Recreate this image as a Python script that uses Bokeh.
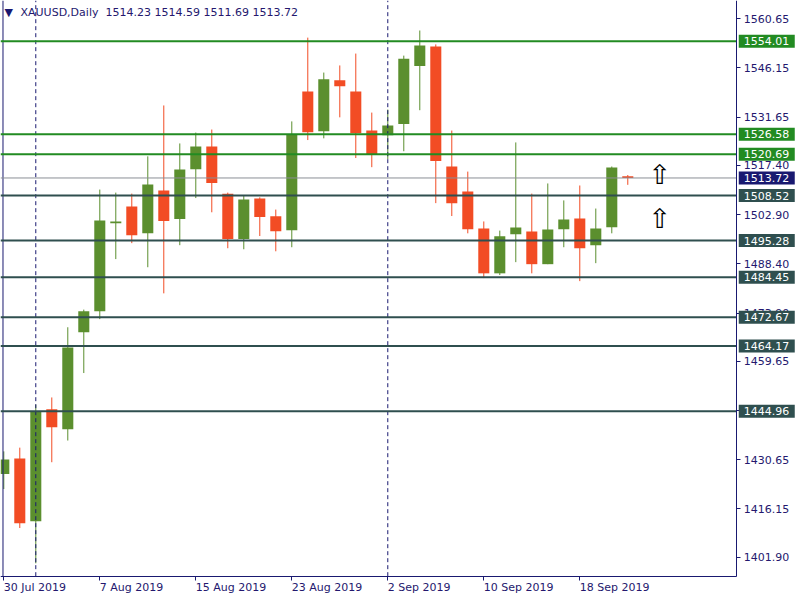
from bokeh.plotting import figure
from bokeh.models import Range1d, FixedTicker, PrintfTickFormatter, ColumnDataSource
from bokeh.models import Label
from bokeh.core.properties import value
from bokeh.embed import file_html
from bokeh.resources import INLINE

# ---------------- data ----------------
dates = ["30 Jul 2019", "31 Jul 2019", "1 Aug 2019", "2 Aug 2019", "5 Aug 2019", "6 Aug 2019",
         "7 Aug 2019", "8 Aug 2019", "9 Aug 2019", "12 Aug 2019", "13 Aug 2019", "14 Aug 2019",
         "15 Aug 2019", "16 Aug 2019", "19 Aug 2019", "20 Aug 2019", "21 Aug 2019", "22 Aug 2019",
         "23 Aug 2019", "26 Aug 2019", "27 Aug 2019", "28 Aug 2019", "29 Aug 2019", "30 Aug 2019",
         "2 Sep 2019", "3 Sep 2019", "4 Sep 2019", "5 Sep 2019", "6 Sep 2019", "9 Sep 2019",
         "10 Sep 2019", "11 Sep 2019", "12 Sep 2019", "13 Sep 2019", "16 Sep 2019", "17 Sep 2019",
         "18 Sep 2019", "19 Sep 2019", "20 Sep 2019", "23 Sep 2019"]
opens = [1426.4, 1431.0, 1412.5, 1445.5, 1439.6, 1468.2, 1474.4, 1500.4, 1505.3, 1497.4,
         1510.0, 1501.6, 1516.3, 1523.0, 1509.1, 1495.7, 1507.7, 1502.4, 1498.3, 1539.2,
         1527.5, 1542.5, 1539.2, 1527.7, 1526.3, 1529.6, 1546.7, 1552.5, 1517.1, 1509.7,
         1498.8, 1485.6, 1497.1, 1497.9, 1488.3, 1498.6, 1501.8, 1493.9, 1499.2, 1514.23]
highs = [1433.1, 1434.2, 1446.9, 1449.0, 1469.7, 1474.9, 1510.3, 1509.4, 1509.1, 1520.1,
         1535.1, 1523.9, 1527.1, 1528.0, 1509.4, 1508.6, 1508.0, 1504.4, 1530.4, 1555.1,
         1544.8, 1546.9, 1550.4, 1533.0, 1533.9, 1549.8, 1557.2, 1553.1, 1527.7, 1515.6,
         1500.9, 1498.2, 1524.2, 1509.1, 1512.1, 1507.1, 1511.5, 1504.7, 1517.1, 1514.59]
lows = [1422.0, 1410.5, 1400.1, 1429.9, 1436.3, 1456.2, 1472.1, 1489.8, 1494.5, 1487.4,
        1479.7, 1493.9, 1507.8, 1503.6, 1493.0, 1492.7, 1496.6, 1492.1, 1493.3, 1524.9,
        1525.4, 1531.6, 1519.6, 1516.9, 1519.3, 1521.6, 1533.7, 1506.3, 1502.5, 1497.4,
        1484.2, 1485.1, 1488.9, 1485.6, 1488.3, 1493.3, 1483.3, 1488.6, 1497.4, 1511.69]
closes = [1430.7, 1411.9, 1444.9, 1440.2, 1463.7, 1474.4, 1501.2, 1500.9, 1496.8, 1511.8,
          1501.0, 1516.2, 1523.0, 1512.2, 1495.7, 1507.4, 1502.2, 1498.0, 1526.7, 1527.2,
          1542.8, 1540.8, 1526.9, 1520.8, 1529.2, 1548.9, 1552.8, 1518.7, 1506.3, 1498.6,
          1485.6, 1496.5, 1499.1, 1488.3, 1498.5, 1501.5, 1493.0, 1498.8, 1516.8, 1513.72]

symbol = "XAUUSD,Daily"
date_tick_labels = ["30 Jul 2019", "7 Aug 2019", "15 Aug 2019", "23 Aug 2019",
                    "2 Sep 2019", "10 Sep 2019", "18 Sep 2019"]
month_starts = ["1 Aug 2019", "2 Sep 2019"]
price_ticks = [1560.65, 1546.15, 1531.65, 1517.40, 1502.90, 1488.40, 1473.90,
               1459.65, 1445.15, 1430.65, 1416.15, 1401.90]
green_levels = [1554.01, 1526.58, 1520.69]
dark_levels = [1508.52, 1495.28, 1484.45, 1472.67, 1464.17, 1444.96]
arrow_bars = [41, 41]
arrow_prices = [1514.7, 1501.9]

# ---------------- style / layout ----------------
BULL = "#5B8F2E"
BEAR = "#F24C24"
NAVY = "#191970"
TEXT = "#24186E"
GREEN_LINE = "#228B22"
DARK_LINE = "#2F4F4F"
PRICE_LINE = "#8A8E96"
FONT = "DejaVu Sans"

W, H = 800, 600
X0, X1 = -0.206, 49.794         # frame covers the whole canvas (16 px per bar)
Y0, Y1 = 1389.13, 1566.05
AXIS_X = 45.81                  # price-axis line position
AXIS_Y = 1396.30                # time-axis line position
BORDER_X = -0.05                # left chart border
PX = W / (X1 - X0)              # pixels per bar

p = figure(width=W, height=H, output_backend="svg", toolbar_location=None,
           x_range=Range1d(X0, X1), y_range=Range1d(Y0, Y1), y_axis_location="right",
           min_border_left=0, min_border_top=0, min_border_right=0, min_border_bottom=0)
p.grid.visible = False
p.outline_line_color = None
p.background_fill_color = "white"
p.border_fill_color = "white"

n = len(dates)
xs = list(range(n))
colors = [BULL if c >= o else BEAR for o, c in zip(opens, closes)]
src = ColumnDataSource(dict(
    x=xs, h=highs, l=lows,
    top=[max(o, c) for o, c in zip(opens, closes)],
    bottom=[min(o, c) for o, c in zip(opens, closes)],
    color=colors))
p.segment(x0="x", y0="h", x1="x", y1="l", line_color="color", line_width=1, source=src)
p.vbar(x="x", width=0.69, top="top", bottom="bottom", fill_color="color", line_color=None, source=src)

# price axis, fixed at the chart's right edge
ya = p.yaxis[0]
ya.fixed_location = AXIS_X
ya.bounds = (AXIS_Y, Y1)
ya.ticker = FixedTicker(ticks=price_ticks)
ya.formatter = PrintfTickFormatter(format="%.2f")
ya.axis_line_color = NAVY
ya.major_tick_line_color = NAVY
ya.major_tick_in = 0
ya.major_tick_out = 4
ya.minor_tick_line_color = None
ya.major_label_text_font = FONT
ya.major_label_text_font_size = "11px"
ya.major_label_text_color = TEXT
ya.major_label_standoff = 3

# time axis, fixed at the chart's bottom edge
tick_idx = [dates.index(d) for d in date_tick_labels]
xa = p.xaxis[0]
xa.fixed_location = AXIS_Y
xa.bounds = (X0, AXIS_X)
xa.ticker = FixedTicker(ticks=tick_idx)
xa.major_label_overrides = {i: dates[i] for i in tick_idx}
xa.major_label_orientation = -0.0001
xa.axis_line_color = NAVY
xa.major_tick_line_color = NAVY
xa.major_tick_in = 0
xa.major_tick_out = 4
xa.minor_tick_line_color = None
xa.major_label_text_font = FONT
xa.major_label_text_font_size = "11px"
xa.major_label_text_color = TEXT
xa.major_label_standoff = 7

# left border
p.segment(x0=[BORDER_X], y0=[AXIS_Y], x1=[BORDER_X], y1=[Y1], line_color=NAVY, line_width=1)

# month separators
sep_x = [dates.index(d) for d in month_starts]
p.segment(x0=sep_x, y0=[AXIS_Y] * len(sep_x), x1=sep_x, y1=[Y1] * len(sep_x),
          line_color=NAVY, line_width=1, line_dash="4 3")

# horizontal levels
last_close = closes[-1]
p.segment(x0=[X0], y0=[last_close], x1=[AXIS_X], y1=[last_close], line_color=PRICE_LINE, line_width=1)
lv = green_levels + dark_levels
lv_col = [GREEN_LINE] * len(green_levels) + [DARK_LINE] * len(dark_levels)
p.segment(x0=[X0] * len(lv), y0=lv, x1=[AXIS_X] * len(lv), y1=lv, line_color=lv_col, line_width=2)

# price boxes on the axis (drawn above the axis labels)
box_v = lv + [last_close]
box_c = lv_col + [NAVY]
box_x = AXIS_X + 30 / PX
p.rect(x=[box_x] * len(box_v), y=box_v, width=56, height=13, width_units="screen",
       height_units="screen", fill_color=box_c, line_color=None, level="overlay")
p.text(x=[AXIS_X] * len(box_v), y=box_v, text=[f"{v:.2f}" for v in box_v], x_offset=7,
       text_font=value(FONT), text_font_size="11px", text_color="white",
       text_align="left", text_baseline="middle", level="overlay")

# arrows
p.text(x=arrow_bars, y=arrow_prices, text=["\u21e7"] * len(arrow_bars),
       text_font=value(FONT), text_font_size="27px", text_align="center",
       text_baseline="middle", text_color="black")

# header
p.add_layout(Label(x=X0, y=Y1, x_offset=4, y_offset=-12, text="\u25bc", text_color=NAVY,
                   text_font=FONT, text_font_size="11px", text_align="left", text_baseline="middle"))
hdr = symbol + "\u00a0\u00a0" + " ".join(f"{v:.2f}" for v in (opens[-1], highs[-1], lows[-1], closes[-1]))
p.add_layout(Label(x=X0, y=Y1, x_offset=20, y_offset=-12, text=hdr, text_color=TEXT,
                   text_font=FONT, text_font_size="11px", text_align="left", text_baseline="middle"))

open("out.html", "w").write(file_html(p, INLINE))
